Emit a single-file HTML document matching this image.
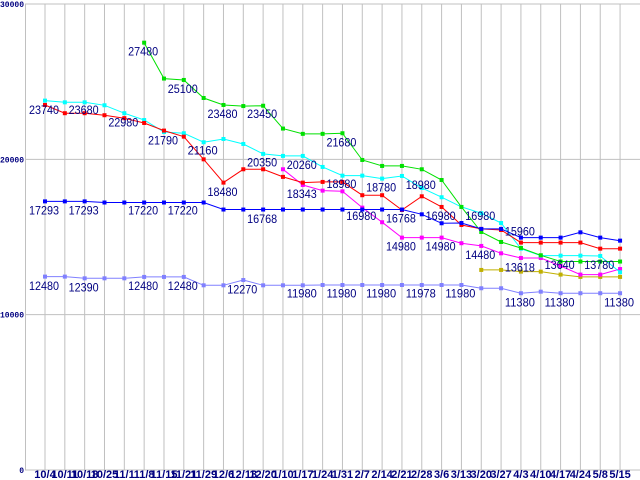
<!DOCTYPE html>
<html><head><meta charset="utf-8"><style>
html,body{margin:0;padding:0;background:#fff;width:640px;height:480px;overflow:hidden}
svg{display:block}
</style></head><body>
<svg id="chart" width="640" height="480" xmlns="http://www.w3.org/2000/svg" font-family="Liberation Sans, sans-serif"></svg>
<script>
const categories=["10/4","10/11","10/18","10/25","11/1","11/8","11/15","11/21","11/29","12/6","12/13","12/20","1/10","1/17","1/24","1/31","2/7","2/14","2/21","2/28","3/6","3/13","3/20","3/27","4/3","4/10","4/17","4/24","5/8","5/15"];
const yTicks=[0,10000,20000,30000];
const blueValues=[17293,17293,17293,17220,17220,17220,17220,17220,17220,16768,16768,16768,16768,16768,16768,16768,16768,16768,16768,16460,15885,15900,15520,15520,14960,14960,14960,15300,14960,14765];
const redValues=[23500,22970,22970,22840,22650,22340,21850,21460,20000,18500,19360,19360,18870,18500,18545,18545,17690,17690,16740,17620,16935,15775,15520,15450,14640,14640,14640,14640,14250,14250];
const greenValues=[null,null,null,null,null,27510,25200,25110,23950,23500,23430,23450,21980,21640,21640,21680,19960,19575,19575,19360,18670,16935,15325,14680,14295,13825,13420,13420,13420,13420];
const cyanValues=[23780,23670,23670,23480,22970,22530,21760,21680,21100,21310,20990,20350,20220,20220,19510,18950,18950,18760,18930,18160,17560,16935,16530,15900,14250,13800,13800,13800,13780,12730];
const magentaValues=[null,null,null,null,null,null,null,null,null,null,null,null,19360,18350,17985,17940,16890,15950,14960,14960,14960,14600,14425,13950,13650,13650,13135,12580,12580,12940];
const oliveValues=[null,null,null,null,null,null,null,null,null,null,null,null,null,null,null,null,null,null,null,null,null,null,12880,12880,12770,12770,12580,12430,12430,12430];
const lilacValues=[12450,12450,12340,12340,12340,12430,12430,12430,11890,11890,12230,11890,11890,11890,11910,11910,11910,11910,11910,11910,11910,11910,11700,11700,11380,11480,11380,11380,11380,11380];
const labelTexts=["23740","23680","22980","27480","25100","21790","21160","23480","23450","18480","20350","20260","18343","17293","17293","17220","17220","16768","21680","18980","18780","18980","16980","16768","16980","16980","14980","14980","14480","15960","13618","13640","13780","12480","12390","12480","12480","12270","11980","11980","11980","11978","11980","11380","11380","11380"];
const labelIndex=[0,2,4,5,7,6,8,9,11,9,11,13,13,0,2,5,7,11,15,15,17,19,16,18,20,22,18,20,22,24,24,26,28,0,2,5,7,10,13,15,17,19,21,24,26,29];
const labelValues=[23175,23175,22360,26930,24530,21200,20555,22920,22920,17900,19785,19635,17770,16695,16695,16695,16695,16160,21070,18410,18175,18350,16350,16180,16350,16350,14375,14375,13840,15340,13025,13200,13200,11845,11760,11845,11845,11635,11375,11375,11375,11375,11375,10770,10770,10770];

const X0=45, DX=19.83, Y0=470, YS=466/30000;
const xs=i=>X0+i*DX;
const ys=v=>Y0-v*YS;
const svg=document.getElementById('chart');
const NS='http://www.w3.org/2000/svg';
function mk(tag,attrs,parent){const e=document.createElementNS(NS,tag);for(const k in attrs)e.setAttribute(k,attrs[k]);(parent||svg).appendChild(e);return e;}

const grid=mk('g',{});


categories.forEach((c,i)=>{
  const l=mk('line',{x1:xs(i),x2:xs(i),y1:ys(30000),y2:Y0,stroke:'#c0c0c0','stroke-width':1},grid);
  
  
  const t=mk('text',{x:xs(i),y:478,'text-anchor':'middle','font-size':11,'font-weight':'bold',fill:'#000080'});
  t.textContent=c;
  
  
});
yTicks.forEach(v=>{
  const l=mk('line',{x1:25,x2:640,y1:ys(v),y2:ys(v),stroke:'#c0c0c0','stroke-width':1},grid);
  
  
  const t=mk('text',{x:24,y:ys(v)+3,'text-anchor':'end','font-size':8,'font-weight':'bold','font-family':'Liberation Mono, monospace',fill:'#000080'});
  t.textContent=String(v);
  
  
});
const ax=mk('line',{x1:25.5,x2:25.5,y1:ys(30000),y2:Y0,stroke:'#c0c0c0'});



const series=[
  ['series-lilac',lilacValues,'#8080ff'],
  ['series-olive',oliveValues,'#c0b000'],
  ['series-magenta',magentaValues,'#ff00ff'],
  ['series-cyan',cyanValues,'#00ffff'],
  ['series-green',greenValues,'#00e000'],
  ['series-red',redValues,'#ff0000'],
  ['series-blue',blueValues,'#0000ff']
];
series.forEach(([name,vals,col])=>{
  const g=mk('g',{});
  
  
  let pts=[];
  vals.forEach((v,i)=>{if(v!=null)pts.push(xs(i).toFixed(1)+','+ys(v).toFixed(1));});
  const pl=mk('polyline',{points:pts.join(' '),fill:'none',stroke:col,'stroke-width':1},g);
  
  
  vals.forEach((v,i)=>{
    if(v==null)return;
    const r=mk('rect',{x:xs(i)-2,y:ys(v)-2,width:4,height:4,fill:col},g);
    
    
  });
});
labelTexts.forEach((s,k)=>{
  const t=mk('text',{x:xs(labelIndex[k])-16,y:ys(labelValues[k])+4,'font-size':12,textLength:30,lengthAdjust:'spacingAndGlyphs',fill:'#000080'});
  t.textContent=s;
  
  
});
</script>
</body></html>
